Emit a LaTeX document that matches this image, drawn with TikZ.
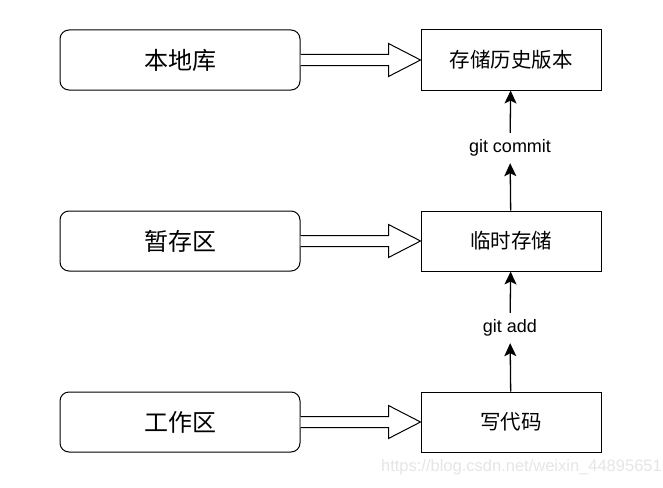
\documentclass[tikz,border=0pt]{standalone}
\usepackage{fontspec}
\setmainfont{Liberation Sans}
\newfontfamily\cjk{Noto Sans CJK SC}
\usetikzlibrary{arrows.meta, positioning, calc}

% hollow block arrow between two nodes
\newcommand{\fatarrow}[2]{%
  \draw[fat] ($(#1.east)+(0,-5.5)$) -- ($(#2.west)+(-32,-5.5)$)
    -- ($(#2.west)+(-32,-16.5)$) -- (#2.west) -- ($(#2.west)+(-32,16.5)$)
    -- ($(#2.west)+(-32,5.5)$) -- ($(#1.east)+(0,5.5)$);
}

\begin{document}
\begin{tikzpicture}[
    x=1pt, y=-1pt,
    area/.style={
        draw,
        line width=1pt,
        rounded corners=9pt,
        minimum width=240pt,
        minimum height=60pt,
        font=\cjk\fontsize{24}{28}\selectfont
    },
    stage/.style={
        draw,
        line width=1pt,
        minimum width=180pt,
        minimum height=60pt,
        font=\cjk\fontsize{20.5}{24}\selectfont
    },
    cmd/.style={
        inner sep=0pt,
        minimum height=30pt,
        font=\fontsize{18}{21}\selectfont
    },
    fat/.style={line width=1pt, fill=white, line join=miter},
    arrow/.style={-{Stealth[length=13pt, width=12pt, inset=3pt]}, line width=1.3pt}
]
\useasboundingbox (0,0) rectangle (663,487);

\node[area] (repo) at (180,60) {本地库};
\node[area, below=120pt of repo] (index) {暂存区};
\node[area, below=120pt of index] (work) {工作区};

\node[stage, right=120pt of repo] (history) {存储历史版本};
\node[stage, right=120pt of index] (staged) {临时存储};
\node[stage, right=120pt of work] (code) {写代码};

\node[cmd] (commit) at (510,148) {git commit};
\node[cmd] (add) at (510,328) {git add};

\fatarrow{repo}{history}
\fatarrow{index}{staged}
\fatarrow{work}{code}

\draw[arrow] (staged) -- (commit);
\draw[arrow] (commit) -- (history);
\draw[arrow] (code) -- (add);
\draw[arrow] (add) -- (staged);

\node[anchor=east, text=black!10, font=\fontsize{16.5}{19}\selectfont, inner sep=0pt]
    (mark) at (662,467) {https://blog.csdn.net/weixin\_44895651};
\end{tikzpicture}
\end{document}
